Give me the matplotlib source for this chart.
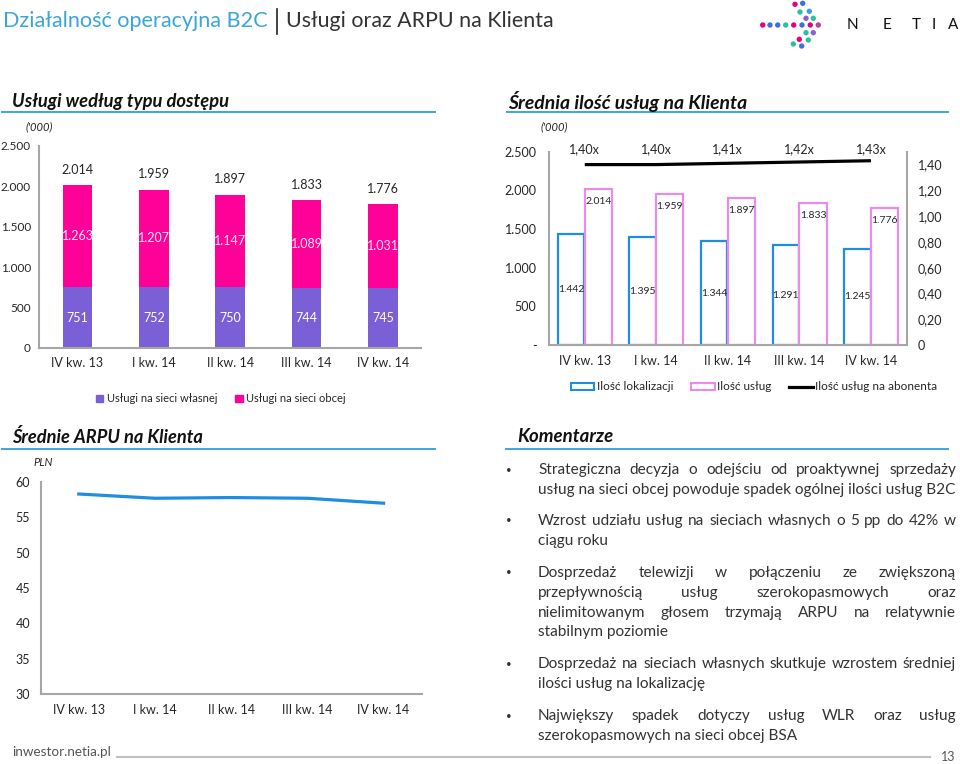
import matplotlib
matplotlib.use("Agg")
import matplotlib.pyplot as plt
from matplotlib.patches import Patch
from matplotlib.lines import Line2D
import numpy as np

# ---------------- data ----------------
quarters = ["IV kw. 13", "I kw. 14", "II kw. 14", "III kw. 14", "IV kw. 14"]
own_network = [751, 752, 750, 744, 745]
other_network = [1263, 1207, 1147, 1089, 1031]
locations = [1442, 1395, 1344, 1291, 1245]
services = [2014, 1959, 1897, 1833, 1776]
services_per_sub = [1.40, 1.40, 1.41, 1.42, 1.43]
ratio_labels = ["1,40x", "1,40x", "1,41x", "1,42x", "1,43x"]
arpu = [58.3, 57.7, 57.8, 57.7, 57.0]

k_ticks = [0, 500, 1000, 1500, 2000, 2500]
k_tick_labels1 = ["0", "500", "1.000", "1.500", "2.000", "2.500"]
k_tick_labels2 = ["-", "500", "1.000", "1.500", "2.000", "2.500"]
ratio_ticks = [0, 0.2, 0.4, 0.6, 0.8, 1.0, 1.2, 1.4]
ratio_tick_labels = ["0", "0,20", "0,40", "0,60", "0,80", "1,00", "1,20", "1,40"]
arpu_ticks = [30, 35, 40, 45, 50, 55, 60]

legend1 = ["Usługi na sieci własnej", "Usługi na sieci obcej"]
legend2 = ["Ilość lokalizacji", "Ilość usług", "Ilość usług na abonenta"]

comments = [
    ["Strategiczna decyzja o odejściu od proaktywnej sprzedaży",
     "usług na sieci obcej powoduje spadek ogólnej ilości usług B2C"],
    ["Wzrost udziału usług na sieciach własnych o 5 pp do 42% w",
     "ciągu roku"],
    ["Dosprzedaż telewizji w połączeniu ze zwiększoną",
     "przepływnością usług szerokopasmowych oraz",
     "nielimitowanym głosem trzymają ARPU na relatywnie",
     "stabilnym poziomie"],
    ["Dosprzedaż na sieciach własnych skutkuje wzrostem średniej",
     "ilości usług na lokalizację"],
    ["Największy spadek dotyczy usług WLR oraz usług",
     "szerokopasmowych na sieci obcej BSA"],
]

# ---------------- style ----------------
FONT = ["Lato", "DejaVu Sans"]
plt.rcParams["font.family"] = FONT
TXT = "#262626"
GRAY = "#a6a6a6"
HEAD_BLUE = "#3aa6dd"
PURPLE = "#7b5fd6"
PINK = "#ff0099"
LOC_BLUE = "#1f8ee0"
SERV_PINK = "#ea8aea"

W, H = 960, 764
fig = plt.figure(figsize=(9.6, 7.64), dpi=100)
renderer = fig.canvas.get_renderer()


def rect(l, t, r, b):
    return [l / W, 1 - b / H, (r - l) / W, (b - t) / H]


def fmt(v):
    return f"{v:,}".replace(",", ".")


# overlay in pixel coordinates for slide decorations
bg = fig.add_axes([0, 0, 1, 1], zorder=-5)
bg.set_xlim(0, W)
bg.set_ylim(H, 0)
bg.axis("off")


def measure(s, fs, **kw):
    t = bg.text(0, 0, s, fontsize=fs, **kw)
    w = t.get_window_extent(renderer).width
    t.remove()
    return w


def fit_text(x, y, s, width, **kw):
    fs = 10 * width / measure(s, 10, **kw)
    return bg.text(x, y, s, fontsize=fs, va="center", ha="left", **kw)


# ---------------- title & logo ----------------
fit_text(3, 21, "Działalność operacyjna B2C", 265, color=HEAD_BLUE)
bg.plot([277, 277], [9, 34], color="#222222", lw=1.2)
fit_text(286, 21, "Usługi oraz ARPU na Klienta", 266, color="#333333")

dots = [
    (762.7, 25, "#e6007e"), (770, 25, "#3d6fe0"), (777.7, 25, "#3d6fe0"), (785.7, 25, "#2bc0a0"),
    (793.7, 25, "#e6007e"), (802, 25, "#3d6fe0"), (810.3, 25, "#e6007e"), (818.3, 25, "#c0409a"),
    (795, 4.3, "#e6007e"), (802.7, 3.3, "#3d6fe0"), (800, 12, "#2bc0a0"), (809.3, 11.3, "#3d9ee0"),
    (806, 18.3, "#8e5fc8"), (813.3, 18.3, "#2bc0a0"), (806, 32.7, "#2bc0a0"), (813.3, 32.7, "#8e5fc8"),
    (799.3, 39.3, "#e6007e"), (808.3, 40, "#2bc0a0"), (793.3, 44, "#2bc0a0"), (801.7, 46, "#3d6fe0"),
]
bg.scatter([d[0] for d in dots], [d[1] for d in dots], s=15, c=[d[2] for d in dots], lw=0)
for ch, xc in zip("NETIA", [852, 887, 916, 934, 953]):
    bg.text(xc, 25, ch, fontsize=11, ha="center", va="center", color="#111111")

# ---------------- section headers ----------------
HK = dict(color="#111111", fontweight="bold", fontstyle="italic")
fit_text(12, 101, "Usługi według typu dostępu", 217, **HK)
bg.plot([2, 435], [112, 112], color=HEAD_BLUE, lw=1.4)
fit_text(508, 101, "Średnia ilość usług na Klienta", 238, **HK)
bg.plot([507, 948], [112, 112], color=HEAD_BLUE, lw=1.4)
fit_text(12, 437, "Średnie ARPU na Klienta", 190, **HK)
bg.plot([2, 435], [449, 449], color=HEAD_BLUE, lw=1.4)
fit_text(517, 437, "Komentarze", 96, **HK)
bg.plot([506, 948], [449, 449], color=HEAD_BLUE, lw=1.4)

bg.text(26, 127, "('000)", fontsize=8, fontstyle="italic", color=TXT, va="center")
bg.text(541, 127, "('000)", fontsize=8, fontstyle="italic", color=TXT, va="center")
bg.text(33, 463, "PLN", fontsize=8, fontstyle="italic", color=TXT, va="center")


def style_axes(ax, ypad, xpad, ysize=9):
    for s in ["top", "right"]:
        ax.spines[s].set_visible(False)
    for s in ["left", "bottom"]:
        ax.spines[s].set_color(GRAY)
        ax.spines[s].set_linewidth(1.5)
    ax.tick_params(axis="y", length=0, pad=ypad, labelsize=ysize, labelcolor=TXT)
    ax.tick_params(axis="x", length=0, pad=xpad, labelsize=9, labelcolor=TXT)
    ax.set_facecolor("none")


x = np.arange(len(quarters))

# ---------------- chart 1: stacked bars ----------------
ax1 = fig.add_axes(rect(39.3, 146, 421, 348))
b1 = ax1.bar(x, own_network, width=0.39, color=PURPLE)
b2 = ax1.bar(x, other_network, bottom=own_network, width=0.39, color=PINK)
ax1.bar_label(b1, labels=[fmt(v) for v in own_network], label_type="center", color="white", fontsize=9)
ax1.bar_label(b2, labels=[fmt(v) for v in other_network], label_type="center", color="#ffe6f4", fontsize=9)
totals = [a + b for a, b in zip(own_network, other_network)]
for xi, t in zip(x, totals):
    ax1.annotate(fmt(t), (xi, t), xytext=(0, 11), textcoords="offset points",
                 ha="center", va="center", fontsize=9, color=TXT)
ax1.set_xlim(-0.5, 4.5)
ax1.set_ylim(0, 2500)
ax1.set_yticks(k_ticks, k_tick_labels1)
ax1.set_xticks(x, quarters)
style_axes(ax1, 6, 6.5, ysize=8.5)
fig.legend([Patch(color=PURPLE), Patch(color=PINK)], legend1, loc="center",
           bbox_to_anchor=(221 / W, 1 - 399 / H), ncol=2, frameon=False, fontsize=8,
           handlelength=0.65, handleheight=0.65, handletextpad=0.35, columnspacing=1.6,
           labelcolor=TXT)

# ---------------- chart 2: outlined bars + ratio line ----------------
ax2 = fig.add_axes(rect(549, 151.7, 906.7, 345))
bl = ax2.bar(x - 0.19, locations, width=0.37, facecolor="white", edgecolor=LOC_BLUE, lw=1.6)
bp = ax2.bar(x + 0.19, services, width=0.38, facecolor="white", edgecolor=SERV_PINK, lw=1.6)
ax2.bar_label(bl, labels=[fmt(v) for v in locations], label_type="center", fontsize=7.5, color=TXT)
for xi, v in zip(x, services):
    ax2.annotate(fmt(v), (xi + 0.19, v), xytext=(0, -9), textcoords="offset points",
                 ha="center", va="center", fontsize=7.5, color=TXT)
ax2.set_xlim(-0.5, 4.5)
ax2.set_ylim(0, 2500)
ax2.set_yticks(k_ticks, k_tick_labels2)
ax2.set_xticks(x, quarters)
style_axes(ax2, 9, 7)
ax2r = ax2.twinx()
ax2r.plot(x, services_per_sub, color="black", lw=2.3, solid_capstyle="butt")
ax2r.set_ylim(0, 1.5)
ax2r.set_yticks(ratio_ticks, ratio_tick_labels)
for s in ["top", "left", "bottom"]:
    ax2r.spines[s].set_visible(False)
ax2r.spines["right"].set_color(GRAY)
ax2r.spines["right"].set_linewidth(1.5)
ax2r.tick_params(axis="y", length=0, pad=8, labelsize=9, labelcolor=TXT)
for xi, lab in zip(x, ratio_labels):
    ax2.text(xi, 1.014, lab, transform=ax2.get_xaxis_transform(), ha="center", va="center",
             fontsize=9, color=TXT)
fig.legend([Patch(facecolor="white", edgecolor=LOC_BLUE, lw=1.5),
            Patch(facecolor="white", edgecolor=SERV_PINK, lw=1.5),
            Line2D([0], [0], color="black", lw=2.3)], legend2, loc="center",
           bbox_to_anchor=(754 / W, 1 - 387 / H), ncol=3, frameon=False, fontsize=8.5,
           handlelength=2.0, handleheight=0.6, handletextpad=0.2, columnspacing=1.5,
           labelcolor=TXT)

# ---------------- chart 3: ARPU ----------------
ax3 = fig.add_axes(rect(40.7, 482, 421.7, 694))
ax3.plot(x, arpu, color=LOC_BLUE, lw=2.3)
ax3.set_xlim(-0.5, 4.5)
ax3.set_ylim(30, 60)
ax3.set_yticks(arpu_ticks)
ax3.set_xticks(x, quarters)
style_axes(ax3, 7.5, 7)

# ---------------- comments (justified) ----------------
CL, CR = 538, 956
fs_c = 10 * (CR - CL - 1) / measure(comments[0][1], 10)
para_y = [470, 521, 573, 664, 716]
line_gap = 19.8
for py, para in zip(para_y, comments):
    bg.text(509, py, "•", fontsize=7, ha="center", va="center", color="#333333")
    for i, line in enumerate(para):
        y = py + i * line_gap
        last = i == len(para) - 1
        if last:
            bg.text(CL, y, line, fontsize=fs_c, ha="left", va="center", color="#333333")
            continue
        words = line.split()
        widths = [measure(w, fs_c) for w in words]
        gap = (CR - CL - sum(widths)) / (len(words) - 1)
        xx = CL
        for w, ww in zip(words, widths):
            bg.text(xx, y, w, fontsize=fs_c, ha="left", va="center", color="#333333")
            xx += ww + gap

# ---------------- footer ----------------
fit_text(12, 752, "inwestor.netia.pl", 99, color="#555555")
bg.plot([117, 930], [756.5, 756.5], color="#c0c0c0", lw=1.5)
bg.text(948, 757, "13", fontsize=9, ha="center", va="center", color="#555555")

fig.savefig("out.png", dpi=100)
